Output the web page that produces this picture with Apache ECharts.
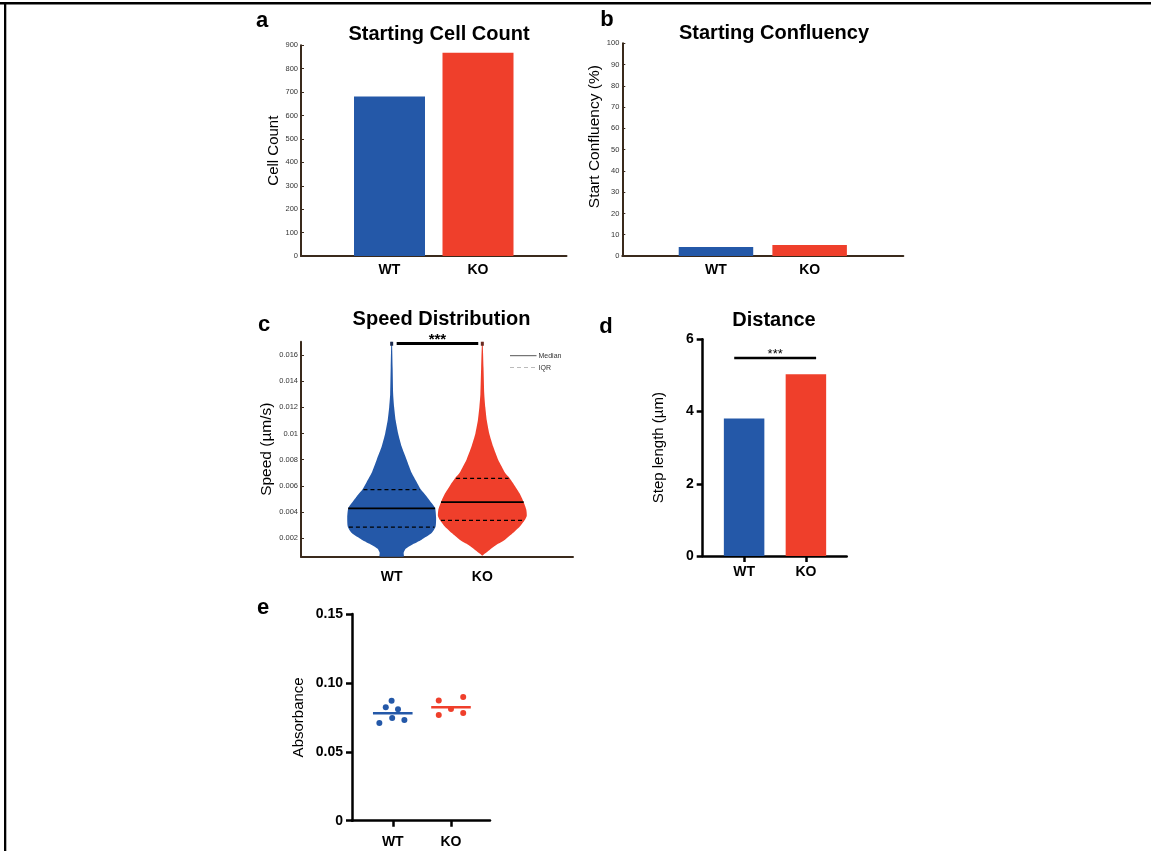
<!DOCTYPE html>
<html><head><meta charset="utf-8">
<script src="https://cdn.jsdelivr.net/npm/echarts@6/dist/echarts.min.js"></script>
<style>html,body{margin:0;padding:0;background:#fff}#c{width:1151px;height:851px}</style>
</head><body><div id="c"></div>
<script>
// ---------- data ----------
const groups = ['WT', 'KO'];
const groupColors = ['#2458A8', '#EF3F2B'];

// a: starting cell count
const cellCount = [681, 868];
// b: starting confluency (%)
const confluency = [4.2, 5.2];

// c: speed distribution (violin profiles: speed level, relative density)
const wtSpeedLevels = [0.0170, 0.0150, 0.0130, 0.0120, 0.0110, 0.0100, 0.0090, 0.0080, 0.0070, 0.0063, 0.0057, 0.0052, 0.0047, 0.0043, 0.0036, 0.0029, 0.0024, 0.0019, 0.0015, 0.0012, 0.0009, 0.0006];
const wtDensity     = [0.007, 0.022, 0.034, 0.056, 0.090, 0.146, 0.225, 0.337, 0.449, 0.562, 0.663, 0.787, 0.899, 0.978, 1.000, 0.989, 0.899, 0.674, 0.449, 0.315, 0.270, 0.270];
const koSpeedLevels = [0.0170, 0.0150, 0.0130, 0.0120, 0.0110, 0.0100, 0.0090, 0.0080, 0.0075, 0.0070, 0.0066, 0.0060, 0.0054, 0.0048, 0.0042, 0.0037, 0.0034, 0.0029, 0.0024, 0.0019, 0.0015, 0.0011, 0.0008, 0.0007];
const koDensity     = [0.007, 0.027, 0.044, 0.067, 0.100, 0.156, 0.244, 0.356, 0.433, 0.511, 0.611, 0.733, 0.844, 0.927, 0.989, 1.000, 0.956, 0.844, 0.689, 0.511, 0.311, 0.156, 0.044, 0.011];
const speedMedian = [0.00429, 0.00477];
const speedQ1     = [0.00286, 0.00337];
const speedQ3     = [0.00571, 0.00658];
const speedTicks  = [0.002, 0.004, 0.006, 0.008, 0.010, 0.012, 0.014, 0.016];

// d: step length (µm)
const stepLength = [3.81, 5.03];

// e: absorbance (replicates with horizontal jitter)
const wtAbsorbance = [0.0709, 0.0823, 0.0871, 0.0745, 0.0808, 0.0731];
const wtJitter     = [-0.23, -0.12, -0.02, -0.01, 0.09, 0.20];
const koAbsorbance = [0.0873, 0.0767, 0.0810, 0.0898, 0.0781];
const koJitter     = [-0.21, -0.21, 0.00, 0.21, 0.21];
const absMedian    = [0.0779, 0.0823];

// ---------- style ----------
const FONT = '"Liberation Sans", Arial, Helvetica, sans-serif';
const BROWN = '#3a2a1c';
const VIOLIN_HALF = 0.49;

function interp(levels, dens, v) {
  for (let i = 0; i < levels.length - 1; i++) {
    if (v <= levels[i] && v >= levels[i + 1]) {
      const t = (levels[i] - v) / (levels[i] - levels[i + 1]);
      return dens[i] + t * (dens[i + 1] - dens[i]);
    }
  }
  return 0;
}

function violinSeries(gi, levels, dens) {
  const cx = gi + 1;
  const color = groupColors[gi];
  return {
    type: 'custom', xAxisIndex: 2, yAxisIndex: 2, clip: true, silent: true,
    data: [[cx, speedMedian[gi]]],
    renderItem: function (params, api) {
      const left = [], right = [];
      for (let i = 0; i < levels.length; i++) {
        const w = dens[i] * VIOLIN_HALF;
        left.push(api.coord([cx - w, levels[i]]));
        right.push(api.coord([cx + w, levels[i]]));
      }
      const pts = left.concat(right.slice().reverse());
      const hline = function (v, dash, lw, k) {
        const w = interp(levels, dens, v) * VIOLIN_HALF * k;
        const p1 = api.coord([cx - w, v]), p2 = api.coord([cx + w, v]);
        return { type: 'line', shape: { x1: p1[0], y1: p1[1], x2: p2[0], y2: p2[1] },
                 style: { stroke: '#000', lineWidth: lw, lineDash: dash } };
      };
      const top = api.coord([cx, levels[0]]);
      return { type: 'group', children: [
        { type: 'polygon', shape: { points: pts, smooth: 0.2 }, style: { fill: color } },
        hline(speedQ3[gi], [4, 3], 1.3, 0.96),
        hline(speedMedian[gi], null, 1.8, 1.0),
        hline(speedQ1[gi], [4, 3], 1.3, 0.98),
        { type: 'rect', shape: { x: top[0] - 1.5, y: top[1] - 1, width: 3, height: 5 },
          style: { fill: gi === 0 ? '#1d2b4d' : '#6a2a20' } }
      ] };
    }
  };
}

function sigSeries(xi, yi, x1, x2, y, fs, fw, lw) {
  return {
    type: 'custom', xAxisIndex: xi, yAxisIndex: yi, clip: false, silent: true,
    data: [[x1, x2, y]],
    renderItem: function (params, api) {
      const p1 = api.coord([api.value(0), api.value(2)]);
      const p2 = api.coord([api.value(1), api.value(2)]);
      return { type: 'group', children: [
        { type: 'line', shape: { x1: p1[0], y1: p1[1], x2: p2[0], y2: p2[1] }, style: { stroke: '#000', lineWidth: lw } },
        { type: 'text', x: (p1[0] + p2[0]) / 2, y: p1[1] - 3.5,
          style: { text: '***', fontSize: fs, fontWeight: fw, fontFamily: FONT, fill: '#000', align: 'center', verticalAlign: 'middle' } }
      ] };
    }
  };
}

function medianSeries(gi) {
  return {
    type: 'custom', xAxisIndex: 4, yAxisIndex: 4, silent: true,
    data: [[gi + 1, absMedian[gi]]],
    renderItem: function (params, api) {
      const p1 = api.coord([api.value(0) - 0.34, api.value(1)]);
      const p2 = api.coord([api.value(0) + 0.34, api.value(1)]);
      return { type: 'line', shape: { x1: p1[0], y1: p1[1], x2: p2[0], y2: p2[1] },
               style: { stroke: groupColors[gi], lineWidth: 2.5 } };
    }
  };
}

function catXAxis(gi, min, max, color, lw, margin, ticks) {
  return {
    gridIndex: gi, type: 'value', min: min, max: max,
    axisLine: { show: true, onZero: false, lineStyle: { color: color, width: lw } },
    axisTick: ticks ? { show: true, customValues: [1, 2], length: 6, lineStyle: { color: color, width: lw } } : { show: false },
    splitLine: { show: false },
    axisLabel: { customValues: [1, 2], formatter: function (v) { return groups[v - 1]; },
                 fontFamily: FONT, fontWeight: 'bold', fontSize: 14, color: '#000', margin: margin }
  };
}

function smallYAxis(gi, min, max, interval, name, nameGap, fs, pad, custom) {
  const ax = {
    gridIndex: gi, type: 'value', min: min, max: max,
    axisLine: { show: true, onZero: false, lineStyle: { color: BROWN, width: 2 } },
    axisTick: { show: true, inside: true, length: 3, lineStyle: { color: BROWN, width: 1 } },
    splitLine: { show: false },
    axisLabel: { fontFamily: FONT, fontSize: 7.5, color: '#333', margin: 3 },
    name: name, nameLocation: 'middle', nameGap: nameGap,
    nameTextStyle: { fontFamily: FONT, fontSize: fs, color: '#000', padding: pad || 0 }
  };
  if (custom) {
    ax.axisLabel.customValues = custom;
    ax.axisTick.customValues = custom;
  } else {
    ax.interval = interval;
  }
  return ax;
}

function boldYAxis(gi, min, max, interval, name, nameGap, fmt) {
  return {
    gridIndex: gi, type: 'value', min: min, max: max, interval: interval,
    axisLine: { show: true, onZero: false, lineStyle: { color: '#000', width: 2.5 } },
    axisTick: { show: true, length: 6, lineStyle: { color: '#000', width: 2.5 } },
    splitLine: { show: false },
    axisLabel: { fontFamily: FONT, fontSize: 14, fontWeight: 'bold', color: '#000', margin: 9, formatter: fmt },
    name: name, nameLocation: 'middle', nameGap: nameGap,
    nameTextStyle: { fontFamily: FONT, fontSize: 15, color: '#000' }
  };
}

function txt(x, y, s, fs, fw, align) {
  return { type: 'text', x: x, y: y, silent: true,
    style: { text: s, fontFamily: FONT, fontSize: fs, fontWeight: fw || 'normal', fill: '#000',
             align: align || 'center', verticalAlign: 'middle' } };
}

const option = {
  animation: false,
  backgroundColor: '#fff',
  grid: [
    { left: 301, top: 45.3, width: 265.5, height: 210.7 },
    { left: 622.3, top: 43.3, width: 281, height: 212.7 },
    { left: 301, top: 341.7, width: 272, height: 215 },
    { left: 702.7, top: 339.3, width: 144, height: 216.7 },
    { left: 352, top: 614, width: 138, height: 206.7 }
  ],
  xAxis: [
    catXAxis(0, 0, 3, BROWN, 2, 7, false),
    catXAxis(1, 0, 3, BROWN, 2, 7, false),
    catXAxis(2, 0, 3, BROWN, 2, 13, false),
    catXAxis(3, 0.33, 2.66, '#000', 2.5, 9, true),
    catXAxis(4, 0.3, 2.67, '#000', 2.5, 14, true)
  ],
  yAxis: [
    smallYAxis(0, 0, 900, 100, 'Cell Count', 14.5, 15),
    smallYAxis(1, 0, 100, 10, 'Start Confluency (%)', 18.5, 15.5, [0, 0, 0, 26]),
    smallYAxis(2, 0.0006, 0.017, null, 'Speed (µm/s)', 26.5, 15.5, 0, speedTicks),
    boldYAxis(3, 0, 6, 2, 'Step length (µm)', 36.5),
    boldYAxis(4, 0, 0.15, 0.05, 'Absorbance', 45.5, function (v) { return v === 0 ? '0' : v.toFixed(2); })
  ],
  series: [
    { type: 'bar', xAxisIndex: 0, yAxisIndex: 0, barWidth: 71,
      data: groups.map(function (g, i) { return { value: [i + 1, cellCount[i]], itemStyle: { color: groupColors[i] } }; }) },
    { type: 'bar', xAxisIndex: 1, yAxisIndex: 1, barWidth: 74.5,
      data: groups.map(function (g, i) { return { value: [i + 1, confluency[i]], itemStyle: { color: groupColors[i] } }; }) },
    violinSeries(0, wtSpeedLevels, wtDensity),
    violinSeries(1, koSpeedLevels, koDensity),
    sigSeries(2, 2, 1.055, 1.955, 0.01686, 15, 'bold', 3),
    { type: 'bar', xAxisIndex: 3, yAxisIndex: 3, barWidth: 40.5,
      data: groups.map(function (g, i) { return { value: [i + 1, stepLength[i]], itemStyle: { color: groupColors[i] } }; }) },
    sigSeries(3, 3, 0.84, 2.165, 5.48, 13, 'normal', 2.5),
    { type: 'scatter', xAxisIndex: 4, yAxisIndex: 4, symbolSize: 6, itemStyle: { color: groupColors[0], opacity: 1 },
      data: wtAbsorbance.map(function (v, i) { return [1 + wtJitter[i], v]; }) },
    { type: 'scatter', xAxisIndex: 4, yAxisIndex: 4, symbolSize: 6, itemStyle: { color: groupColors[1], opacity: 1 },
      data: koAbsorbance.map(function (v, i) { return [2 + koJitter[i], v]; }) },
    medianSeries(0),
    medianSeries(1)
  ],
  graphic: [
    { type: 'rect', shape: { x: 0, y: 2, width: 1151, height: 2.5 }, style: { fill: '#000' }, silent: true },
    { type: 'rect', shape: { x: 4, y: 2, width: 2.3, height: 849 }, style: { fill: '#000' }, silent: true },
    txt(262, 20.5, 'a', 22, 'bold'),
    txt(607, 20, 'b', 22, 'bold'),
    txt(264, 325, 'c', 22, 'bold'),
    txt(606, 326.5, 'd', 22, 'bold'),
    txt(263, 607.5, 'e', 22, 'bold'),
    txt(439, 34.5, 'Starting Cell Count', 20, 'bold'),
    txt(774, 33.5, 'Starting Confluency', 20, 'bold'),
    txt(441.5, 319, 'Speed Distribution', 20, 'bold'),
    txt(774, 320, 'Distance', 20, 'bold'),
    { type: 'line', shape: { x1: 510, y1: 355.7, x2: 536.5, y2: 355.7 }, style: { stroke: '#555', lineWidth: 1 }, silent: true },
    { type: 'line', shape: { x1: 510, y1: 367.5, x2: 536.5, y2: 367.5 }, style: { stroke: '#bbb', lineWidth: 1, lineDash: [4, 3] }, silent: true },
    { type: 'text', x: 538.5, y: 356, silent: true, style: { text: 'Median', fontFamily: FONT, fontSize: 7, fill: '#333', align: 'left', verticalAlign: 'middle' } },
    { type: 'text', x: 538.5, y: 368, silent: true, style: { text: 'IQR', fontFamily: FONT, fontSize: 7, fill: '#333', align: 'left', verticalAlign: 'middle' } }
  ]
};

const chart = echarts.init(document.getElementById('c'), null, { renderer: 'canvas' });
chart.setOption(option);
</script>
</body></html>
